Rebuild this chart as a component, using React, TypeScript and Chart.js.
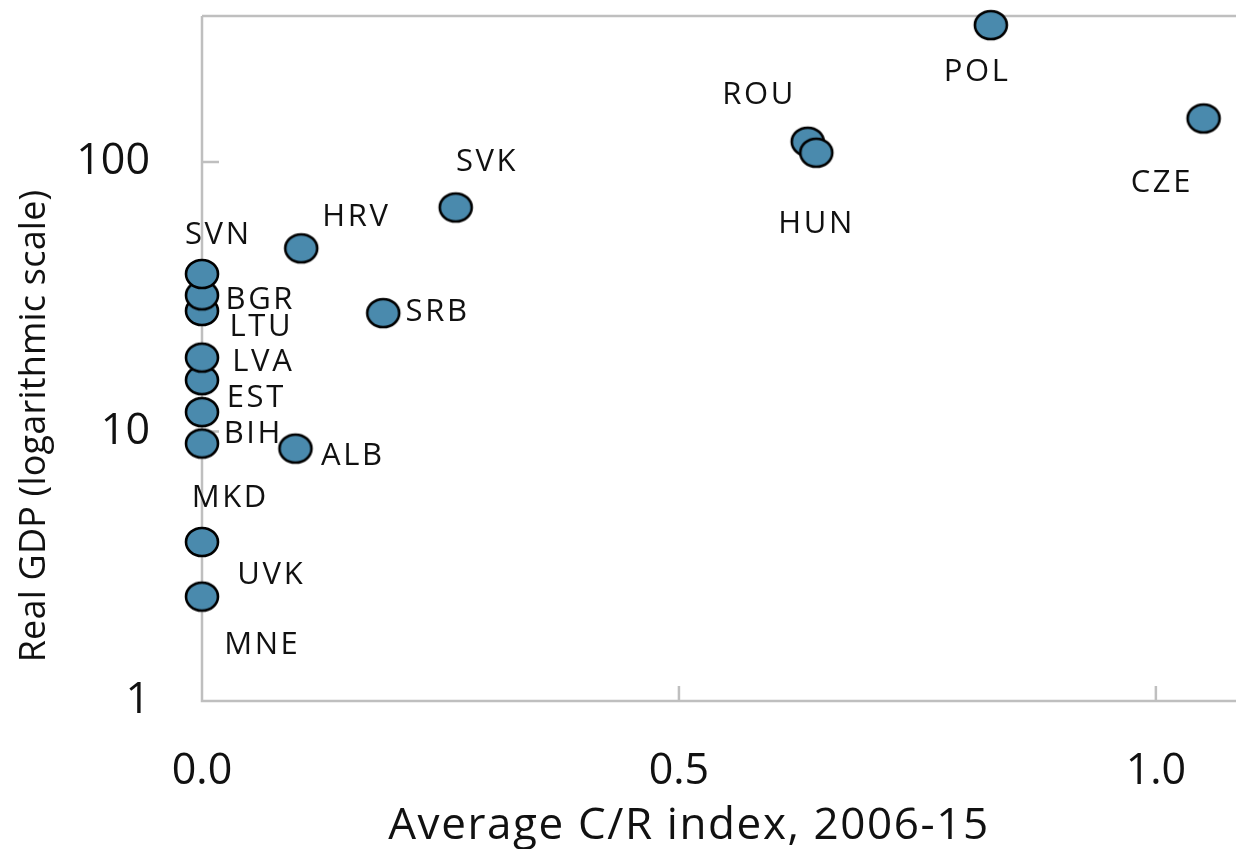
import React, { useEffect, useRef } from 'react';
import { Chart, registerables } from 'chart.js';

Chart.register(...registerables);

// ---- Data ----
const countryCodes = ['MNE', 'UVK', 'MKD', 'BIH', 'EST', 'LVA', 'LTU', 'BGR', 'SVN', 'ALB', 'HRV', 'SRB', 'SVK', 'ROU', 'HUN', 'POL', 'CZE'];
const crIndex = [0, 0, 0, 0, 0, 0, 0, 0, 0, 0.098, 0.104, 0.19, 0.266, 0.635, 0.644, 0.827, 1.05];
const realGdp = [2.44, 3.89, 9.02, 11.8, 15.5, 18.8, 28.0, 32.0, 38.4, 8.64, 47.8, 27.5, 67.8, 118.9, 108.2, 322, 145];

const xTickValues = [0, 0.5, 1.0];
const xTickLabels = ['0.0', '0.5', '1.0'];
const yTickValues = [1, 10, 100];
const yTickLabels = ['1', '10', '100'];

const xTitle = 'Average C/R index, 2006-15';
const yTitle = 'Real GDP (logarithmic scale)';

// label placement relative to marker centre (pixels)
const labelOffsets: Record<string, [number, number]> = {
  SVN: [15, -41], BGR: [57, 3], LTU: [58, 14], LVA: [60, 2], EST: [53, 16], BIH: [50, 20],
  MKD: [27, 52], UVK: [68, 31], MNE: [59, 46], ALB: [56, 5], SRB: [53, -3], HRV: [54, -33],
  SVK: [30, -47], ROU: [-50, -49], HUN: [-1, 69], POL: [-15, 45], CZE: [-43, 63],
};

const AXIS_COLOR = '#bfbfbf';
const TEXT_COLOR = '#111111';
const MARKER_FILL = '#4a8aad';

function makeMarker(): HTMLCanvasElement {
  const c = document.createElement('canvas');
  c.width = 38;
  c.height = 34;
  const ctx = c.getContext('2d')!;
  ctx.beginPath();
  ctx.ellipse(19, 17, 16, 14, 0, 0, Math.PI * 2);
  ctx.fillStyle = MARKER_FILL;
  ctx.fill();
  ctx.lineWidth = 2.6;
  ctx.strokeStyle = '#000';
  ctx.stroke();
  return c;
}

const zeroPad = (s: any) => {
  s.paddingTop = 0;
  s.paddingBottom = 0;
  s.paddingLeft = 0;
  s.paddingRight = 0;
};

const framePlugin = {
  id: 'frame',
  beforeDatasetsDraw(chart: any) {
    const { ctx, chartArea: a, scales } = chart;
    const x = scales.x;
    const y = scales.y;
    ctx.save();
    ctx.strokeStyle = AXIS_COLOR;
    ctx.lineWidth = 2.5;
    ctx.beginPath();
    ctx.moveTo(a.left, a.top);
    ctx.lineTo(a.right, a.top);
    ctx.moveTo(a.left, a.top);
    ctx.lineTo(a.left, a.bottom);
    ctx.lineTo(a.right, a.bottom);
    for (const v of yTickValues.slice(1)) {
      const py = y.getPixelForValue(v);
      ctx.moveTo(a.left, py);
      ctx.lineTo(a.left + 17, py);
    }
    for (const v of xTickValues.slice(1)) {
      const px = x.getPixelForValue(v);
      ctx.moveTo(px, a.bottom);
      ctx.lineTo(px, a.bottom - 15);
    }
    ctx.stroke();
    ctx.restore();
  },
  afterDatasetsDraw(chart: any) {
    const { ctx, chartArea: a } = chart;
    const meta = chart.getDatasetMeta(0);
    ctx.save();
    ctx.fillStyle = TEXT_COLOR;
    ctx.font = '31px "Open Sans"';
    (ctx as any).letterSpacing = '2.6px';
    ctx.textAlign = 'center';
    ctx.textBaseline = 'alphabetic';
    meta.data.forEach((el: any, i: number) => {
      const code = countryCodes[i];
      const off = labelOffsets[code] || [0, -30];
      ctx.fillText(code, el.x + off[0] + 1.3, el.y + off[1] + 11);
    });

    // x title
    ctx.font = '44px "Open Sans"';
    (ctx as any).letterSpacing = '1.6px';
    ctx.fillText(xTitle, a.left + 487, 839);

    // y title
    ctx.font = '36px "Open Sans"';
    (ctx as any).letterSpacing = '0.2px';
    ctx.translate(45, 426);
    ctx.rotate(-Math.PI / 2);
    ctx.fillText(yTitle, 0, 0);
    ctx.restore();
  },
};

export default function App() {
  const canvasRef = useRef<HTMLCanvasElement | null>(null);

  useEffect(() => {
    if (!canvasRef.current) return;
    const marker = makeMarker();
    const chart = new Chart(canvasRef.current, {
      type: 'scatter',
      data: {
        datasets: [
          {
            data: countryCodes.map((_, i) => ({ x: crIndex[i], y: realGdp[i] })),
            pointStyle: marker as any,
            pointRadius: 16,
            clip: false as any,
          },
        ],
      },
      options: {
        animation: false,
        responsive: true,
        maintainAspectRatio: false,
        layout: { autoPadding: false, padding: { top: 16, left: 0, right: 0, bottom: 0 } },
        plugins: { legend: { display: false }, tooltip: { enabled: false } },
        scales: {
          x: {
            type: 'linear',
            min: 0,
            max: 1.084,
            grid: { display: false, drawTicks: false },
            border: { display: false },
            afterBuildTicks: (s: any) => {
              s.ticks = xTickValues.map((v) => ({ value: v }));
            },
            afterFit: (s: any) => {
              s.height = 148;
              zeroPad(s);
            },
            ticks: {
              autoSkip: false,
              maxRotation: 0,
              padding: 45,
              color: TEXT_COLOR,
              font: { family: '"Open Sans"', size: 43 },
              callback: (_v: any, idx: number) => xTickLabels[idx],
            },
          },
          y: {
            type: 'logarithmic',
            min: 1,
            max: 348,
            grid: { display: false, drawTicks: false },
            border: { display: false },
            afterBuildTicks: (s: any) => {
              s.ticks = yTickValues.map((v) => ({ value: v }));
            },
            afterFit: (s: any) => {
              s.width = 202;
              zeroPad(s);
            },
            ticks: {
              autoSkip: false,
              padding: 52,
              color: TEXT_COLOR,
              font: { family: '"Open Sans"', size: 43 },
              callback: (_v: any, idx: number) => yTickLabels[idx],
            },
          },
        },
      },
      plugins: [framePlugin],
    });
    return () => chart.destroy();
  }, []);

  return (
    <div style={{ position: 'fixed', left: 0, top: 0, width: 1236, height: 849, background: '#fff' }}>
      <canvas ref={canvasRef} />
    </div>
  );
}
